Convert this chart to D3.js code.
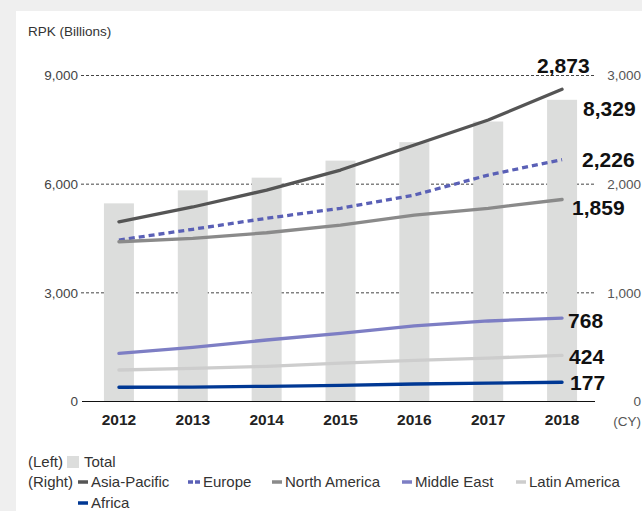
<!DOCTYPE html>
<html>
<head>
<meta charset="utf-8">
<script src="https://cdn.jsdelivr.net/npm/d3@7"></script>
<style>
  html, body { margin: 0; padding: 0; background: #efefef; }
  svg { display: block; font-family: "Liberation Sans", Arial, Helvetica, sans-serif; }
</style>
</head>
<body>
<svg id="chart" width="642" height="511"></svg>
<script>
// Revenue passenger kilometres by region, 2012-2018
const years = ["2012", "2013", "2014", "2015", "2016", "2017", "2018"];
const total = [5470, 5830, 6180, 6650, 7160, 7730, 8329];           // left axis
const asiaPacific = [1654, 1790, 1946, 2130, 2360, 2590, 2873];    // right axis
const europe = [1486, 1585, 1686, 1778, 1900, 2084, 2226];
const northAmerica = [1470, 1502, 1553, 1624, 1716, 1778, 1859];
const middleEast = [443, 499, 566, 627, 695, 741, 768];
const latinAmerica = [290, 305, 324, 354, 379, 400, 424];
const africa = [131, 133, 140, 149, 161, 170, 177];

const leftTicks = [0, 3000, 6000, 9000];
const rightTicks = [0, 1000, 2000, 3000];

const seriesNames = ["Asia-Pacific", "Europe", "North America", "Middle East", "Latin America", "Africa"];
const seriesValues = [asiaPacific, europe, northAmerica, middleEast, latinAmerica, africa];
const seriesColors = ["#555555", "#5a60b6", "#8a8a8a", "#7d7ec4", "#cdcdcd", "#003894"];
const seriesDash = [null, "6,4", null, null, null, null];

const svg = d3.select("#chart");
const W = 642, H = 511;

// white panel
svg.append("rect").attr("x", 16).attr("y", 11).attr("width", W - 16).attr("height", H - 11).attr("fill", "#ffffff");

const plotLeft = 82, plotRight = 595;
const x = d3.scaleBand().domain(years).range([plotLeft, 599]).paddingInner(0.594).paddingOuter(0.297);
const yL = d3.scaleLinear().domain([0, 9000]).range([401.5, 75.5]);
const yR = d3.scaleLinear().domain([0, 3000]).range([401.5, 75.5]);
const fmt = d3.format(",");

// grid lines
svg.append("g").selectAll("line").data(leftTicks.filter(d => d > 0)).join("line")
  .attr("x1", plotLeft - 1).attr("x2", plotRight)
  .attr("y1", d => yL(d)).attr("y2", d => yL(d))
  .attr("stroke", "#444").attr("stroke-width", 1).attr("stroke-dasharray", "3,2");

// bars (left axis)
svg.append("g").selectAll("rect").data(years).join("rect")
  .attr("x", d => x(d)).attr("width", x.bandwidth())
  .attr("y", (d, i) => yL(total[i])).attr("height", (d, i) => yL(0) - yL(total[i]))
  .attr("fill", "#dcdddc");

// baseline
svg.append("line").attr("x1", plotLeft).attr("x2", plotRight)
  .attr("y1", yL(0)).attr("y2", yL(0)).attr("stroke", "#111").attr("stroke-width", 1.2);

// left axis
const leftAxis = svg.append("g").attr("transform", `translate(${plotLeft - 4},0)`)
  .call(d3.axisLeft(yL).tickValues(leftTicks).tickFormat(fmt).tickSize(0).tickPadding(0));
leftAxis.select(".domain").remove();
leftAxis.selectAll("text").attr("font-size", 13.5).attr("fill", "#444").attr("font-family", null);

// right axis
const rightAxis = svg.append("g").attr("transform", `translate(641,0)`)
  .call(d3.axisLeft(yR).tickValues(rightTicks).tickFormat(fmt).tickSize(0).tickPadding(0));
rightAxis.select(".domain").remove();
rightAxis.selectAll("text").attr("font-size", 13.5).attr("fill", "#555").attr("font-family", null);
svg.append("text").attr("x", 641).attr("y", 426).attr("text-anchor", "end")
  .attr("font-size", 13.5).attr("fill", "#555").text("(CY)");

// category axis
const bottomAxis = svg.append("g").attr("transform", `translate(0,${yL(0)})`)
  .call(d3.axisBottom(x).tickSize(0).tickPadding(12));
bottomAxis.select(".domain").remove();
bottomAxis.selectAll("text").attr("font-size", 15.5).attr("font-weight", "bold")
  .attr("fill", "#222").attr("font-family", null);

// axis title
svg.append("text").attr("x", 28).attr("y", 36).attr("font-size", 13.5).attr("fill", "#333").text("RPK (Billions)");

// region lines (right axis)
const line = d3.line().x((d, i) => x(years[i]) + x.bandwidth() / 2).y(d => yR(d));
svg.append("g").selectAll("path").data(seriesValues).join("path")
  .attr("d", d => line(d))
  .attr("fill", "none")
  .attr("stroke", (d, i) => seriesColors[i])
  .attr("stroke-width", 3.3)
  .attr("stroke-linecap", (d, i) => seriesDash[i] ? "butt" : "round")
  .attr("stroke-linejoin", "round")
  .attr("stroke-dasharray", (d, i) => seriesDash[i]);

// end-of-series value labels
const lastX = x(years[years.length - 1]) + x.bandwidth() / 2;
const endLabels = [
  { value: asiaPacific[6], y: yR(asiaPacific[6]), dx: -25, dy: -16 },
  { value: total[6], y: yL(total[6]), dx: 21, dy: 16.5 },
  { value: europe[6], y: yR(europe[6]), dx: 20, dy: 7.5 },
  { value: northAmerica[6], y: yR(northAmerica[6]), dx: 10, dy: 16 },
  { value: middleEast[6], y: yR(middleEast[6]), dx: 6, dy: 9.5 },
  { value: latinAmerica[6], y: yR(latinAmerica[6]), dx: 7, dy: 9 },
  { value: africa[6], y: yR(africa[6]), dx: 8, dy: 7.5 }
];
svg.append("g").selectAll("text").data(endLabels).join("text")
  .attr("x", d => lastX + d.dx).attr("y", d => d.y + d.dy)
  .attr("font-size", 21).attr("font-weight", "bold").attr("fill", "#111")
  .text(d => fmt(d.value));

// legend
const lg = svg.append("g").attr("font-size", 15).attr("fill", "#333");
lg.append("text").attr("x", 28).attr("y", 467).text("(Left)");
lg.append("rect").attr("x", 67).attr("y", 456).attr("width", 12).attr("height", 12).attr("fill", "#dcdddc");
lg.append("text").attr("x", 84).attr("y", 467).text("Total");
lg.append("text").attr("x", 28).attr("y", 487).text("(Right)");

const legendPos = [
  { sx: 78, row: 0 }, { sx: 188, row: 0 }, { sx: 272, row: 0 },
  { sx: 402, row: 0 }, { sx: 516, row: 0 }, { sx: 78, row: 1 }
];
const items = lg.selectAll("g.item").data(seriesNames).join("g").attr("class", "item")
  .attr("transform", (d, i) => `translate(${legendPos[i].sx},${482 + legendPos[i].row * 21})`);
items.append("line")
  .attr("x1", 0).attr("x2", (d, i) => seriesDash[i] ? 12 : 10).attr("y1", 0).attr("y2", 0)
  .attr("stroke", (d, i) => seriesColors[i]).attr("stroke-width", 3.5)
  .attr("stroke-dasharray", (d, i) => seriesDash[i] ? "5,2" : null);
items.append("text")
  .attr("x", (d, i) => seriesDash[i] ? 15 : 13).attr("y", 5).text(d => d);
</script>
</body>
</html>
